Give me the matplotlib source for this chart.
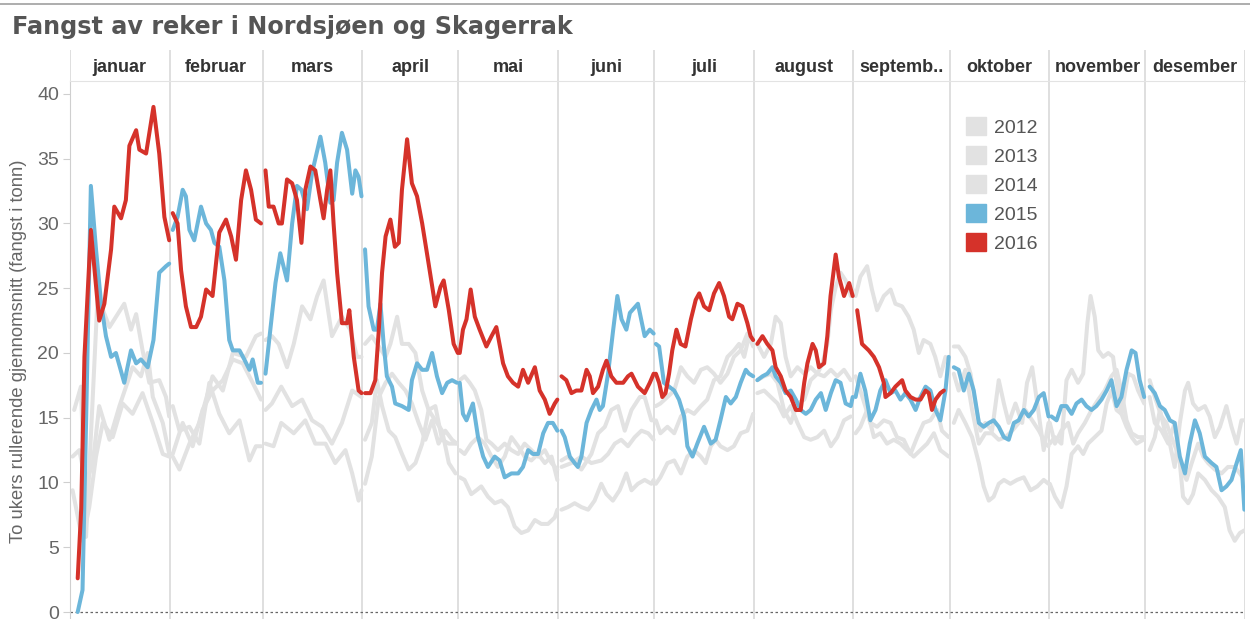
import numpy as np
import matplotlib.pyplot as plt
from matplotlib.patches import Patch
from matplotlib.lines import Line2D

maaneder = ['januar', 'februar', 'mars', 'april', 'mai', 'juni', 'juli',
            'august', 'septemb..', 'oktober', 'november', 'desember']
dager_i_mnd = [31, 29, 31, 30, 31, 30, 31, 31, 30, 31, 30, 31]
aar = ['2012', '2013', '2014', '2015', '2016']

# 2016 (til og med september)
dag_2016 = [2.4, 3.5, 4.5, 6.5, 9.1, 10.7, 12.8, 13.8, 15.9, 17.4, 18.5, 20.6, 21.6, 23.7, 26, 27.8, 29.4, 30.9,
            32, 33.5, 34.6, 36.1, 37.7, 39.3, 40.8, 42.4, 44.4, 46.5, 48.6, 50.2, 51.7, 53.3, 54.8, 56.4, 57.9, 59.5,
            60.9, 61.9, 63.4, 65, 66, 67.6, 69.2, 70.7, 72.1, 73.3, 74.9, 76.4, 78, 79, 80.1, 81.1, 82.1, 83.2, 84.7, 86.3, 87, 88.4, 89.9, 90.8,
            91.9, 93.6, 95.1, 96.2, 97.2, 98.3, 99.8, 101.2, 102.4, 103.4, 105, 106.5, 108.1, 109.7, 111.7, 113.8, 115.4, 116.4, 118, 119.5, 120.8,
            121.4, 122.4, 123.5, 124.8, 126.1, 127.6, 129.7, 131.3, 132.8, 134.9, 136.4, 138, 139.6, 141.1, 142.7, 144.8, 146.3, 147.9, 149.4, 151, 151.8,
            153.1, 154.6, 156.2, 157.7, 159.3, 160.9, 161.9, 162.9, 164.5, 166, 167.1, 168.6, 170.2, 172.3, 173.8, 174.9, 176.9, 179, 180.6, 181.8,
            182.5, 183.5, 184.5, 185.5, 186.6, 187.6, 188.9, 190.2, 191.7, 193.4, 194.9, 196, 197.5, 199.1, 200.6, 202.2, 203.7, 205.3, 206.3, 207.9, 209.4, 211, 212, 212.8,
            214.1, 215.7, 217.2, 218.8, 219.8, 221.4, 222.9, 224.5, 226.1, 227.6, 228.7, 229.7, 231.3, 232.3, 233.3, 234.9, 235.9, 236.9, 238.5, 239.5, 241.1, 242.7, 243.8,
            245.2, 246.7, 248.8, 250.4, 252, 253.5, 254, 255.6, 257.1, 259.2, 260.2, 261.8, 263.4, 264.9, 266.5, 267.5, 268.5, 269.6, 271.1, 272.2]
fangst_2016 = [2.6, 8, 19.7, 29.5, 22.5, 23.8, 28, 31.3, 30.4, 31.8, 36, 37.2, 35.7, 35.4, 39, 35.4, 30.5, 28.7,
               30.8, 30, 26.4, 23.6, 22, 22, 22.8, 24.9, 24.4, 29.3, 30.3, 29, 27.2, 31.8, 34.1, 32.6, 30.3, 30,
               34.1, 31.3, 31.3, 30, 30, 33.4, 33.1, 31.8, 28.5, 32.6, 34.4, 34.1, 31.8, 30.4, 32.6, 34.1, 30, 26.2, 22.3, 22.3, 23.3, 19.7, 17.1, 16.9,
               16.9, 16.9, 17.9, 21.8, 26.2, 29, 30.3, 28.2, 28.5, 32.6, 36.5, 33.1, 32.1, 30, 26.9, 23.6, 25.1, 25.6, 23.3, 20.7, 20,
               20, 21.8, 22.6, 24.9, 22.8, 21.8, 20.5, 21.3, 22, 19.2, 18.2, 17.7, 17.4, 18.7, 17.7, 18.9, 17.1, 16.4, 15.3, 16.1, 16.4,
               18.2, 17.9, 16.9, 17.1, 17.1, 18.7, 18.2, 16.9, 17.4, 18.7, 19.4, 18.2, 17.7, 17.7, 18.2, 18.4, 17.4, 16.9, 17.7, 18.4,
               18.4, 17.7, 16.6, 16.9, 18.4, 20.2, 21.8, 20.7, 20.5, 22.6, 24.1, 24.6, 23.6, 23.3, 24.6, 25.4, 24.4, 22.8, 22.6, 23.8, 23.6, 22.3, 21.3, 21,
               20.7, 21.3, 20.7, 20.2, 18.9, 18.2, 17.1, 16.6, 15.6, 15.6, 17.7, 19.2, 20.7, 20.2, 18.9, 19.2, 21.3, 24.4, 27.6, 25.9, 24.4, 25.4, 24.4,
               23.3, 20.7, 20.2, 19.7, 18.9, 17.7, 16.6, 16.9, 17.4, 17.9, 17.1, 16.6, 16.4, 16.4, 17.1, 16.9, 15.6, 16.4, 16.9, 17.1]

dag_2015 = [2.4, 3.9, 5, 6.5, 8.1, 9.7, 11.2, 12.8, 14.3, 16.9, 19, 20.6, 22.1, 24.2, 26, 27.8, 29.9, 30.9,
            32, 33.5, 35.1, 36.1, 37.2, 38.7, 40.8, 42.4, 43.9, 45, 46.5, 48.1, 49.6, 50.7, 52.8, 54.3, 55.9, 56.9, 58.5, 59.5,
            60.9, 62.4, 64, 65.5, 67.6, 69.2, 70.7, 72.1, 73.8, 75.4, 78, 79.5, 81.1, 82.1, 83.2, 84.7, 86.3, 87.9, 88.9, 89.9, 90.8,
            91.9, 93, 94.6, 95.6, 96.7, 97.7, 98.7, 100.3, 101.3, 103.4, 105.5, 106.5, 108.1, 109.7, 111.2, 112.8, 114.3, 115.9, 117.5, 119, 120.5,
            121.4, 122.4, 123.5, 125.5, 127.1, 128.7, 130.2, 132.3, 133.8, 135.4, 137.5, 139.6, 141.1, 142.7, 144.2, 145.8, 147.4, 148.9, 150.4, 151.8,
            153.1, 154.1, 155.7, 157.2, 158.2, 159.3, 160.9, 162.4, 164, 165, 166, 167.6, 169.2, 170.5, 171.8, 173.3, 174.4, 176.9, 179, 180.6, 181.8,
            182.5, 183.5, 185, 186.6, 188.2, 189.7, 191.3, 192.3, 193.9, 195.4, 197.5, 199.6, 201.1, 202.6, 204.3, 205.8, 207.4, 208.9, 210.5, 211.5, 212.8,
            214.1, 215.7, 217.2, 218.8, 219.8, 221.4, 222.9, 224.5, 226.1, 227.6, 229.2, 230.7, 232.3, 233.9, 235.4, 237, 238.5, 240, 241.6, 243.2, 243.8,
            244.7, 246.2, 247.7, 249.3, 250.9, 252.4, 254, 255.6, 257.1, 258.7, 260.2, 261.8, 263.4, 264.9, 266.5, 268, 269.6, 271.1, 272.7, 273.7,
            275.3, 276.8, 278.4, 280, 281.5, 283.1, 284.6, 286.2, 287.7, 289.3, 290.9, 292.4, 294, 295.5, 297.1, 298.6, 300.2, 301.8, 303.3, 304.8,
            305.7, 307.3, 308.8, 310.4, 312, 313.5, 315.1, 316.6, 318.2, 319.7, 321.3, 322.9, 324.4, 326, 327.5, 329.1, 330.7, 331.9, 333.2, 334.6,
            336.3, 337.9, 339.5, 341, 342.6, 344.1, 345.7, 347.3, 348.8, 350.4, 351.9, 353.5, 355.6, 357.1, 358.7, 360.2, 361.8, 363.4, 364.7, 365.8]
fangst_2015 = [0, 1.7, 14.6, 32.9, 28, 23.8, 21.3, 19.7, 20, 17.7, 20.2, 19.2, 19.5, 18.9, 21, 26.2, 26.7, 26.9,
               29.5, 30.5, 32.6, 32.1, 29.5, 28.7, 31.3, 30, 29.5, 28.5, 28.2, 25.6, 21, 20.2, 20.2, 19.5, 18.7, 19.5, 17.7, 17.7,
               18.4, 21.8, 25.4, 27.7, 25.6, 30, 32.9, 32.6, 31.1, 33.9, 36.7, 34.7, 31.6, 31.8, 34.7, 37, 35.7, 32.3, 34.1, 33.6, 32.1,
               28, 23.6, 21.8, 21.8, 23.8, 20.7, 18.2, 17.4, 16.1, 15.9, 15.6, 17.9, 19.2, 18.7, 18.7, 20, 18.2, 16.9, 17.7, 17.9, 17.7,
               17.7, 15.3, 14.8, 16.1, 13.5, 12, 11.2, 12, 11.7, 10.4, 10.7, 10.7, 11.2, 12.5, 12.2, 12.2, 13.8, 14.6, 14.6, 14,
               14, 13.5, 12, 11.5, 11.2, 12, 14.6, 15.6, 16.4, 15.6, 15.9, 18.4, 21.8, 24.4, 22.6, 21.8, 23.1, 23.8, 21.3, 21.8, 21.5,
               20.7, 20.5, 17.7, 17.4, 17.1, 16.4, 15.1, 12.8, 12, 13, 14.3, 13, 13.3, 14.8, 16.6, 16.1, 16.6, 17.7, 18.7, 18.4, 18.2,
               17.9, 18.2, 18.4, 18.9, 18.2, 17.7, 16.9, 17.1, 16.4, 15.6, 15.3, 15.6, 16.4, 16.9, 15.6, 16.9, 17.9, 17.7, 16.1, 15.9, 16.6,
               16.6, 18.4, 17.1, 14.8, 15.6, 17.1, 17.9, 16.9, 17.1, 16.4, 16.9, 16.4, 15.6, 16.6, 17.4, 17.1, 15.6, 14.8, 17.1, 19.7,
               18.9, 18.7, 17.1, 18.4, 17.1, 14.6, 14.3, 14.6, 14.8, 14.3, 13.5, 13.3, 14.6, 14.8, 15.6, 15.1, 15.6, 16.6, 16.9, 15.1,
               15.1, 14.8, 15.9, 15.9, 15.3, 16.1, 16.4, 15.9, 15.6, 15.9, 16.4, 17.1, 17.9, 15.9, 16.6, 18.7, 20.2, 20, 17.9, 16.6,
               17.4, 16.9, 15.9, 15.6, 14.8, 14.6, 12, 10.7, 13, 14.8, 13.8, 12, 11.5, 11.2, 9.4, 9.7, 10.2, 11.5, 12.5, 7.9]

dag_2013 = [1.3, 3.4, 5, 8.6, 12.3, 16.9, 19, 20.6, 22.6, 24.7, 27.8, 29.9, 30.9,
            32, 34.1, 37.2, 40.3, 44.4, 47.6, 50.7, 54.8, 57.9, 59.5,
            60.9, 62.9, 65, 67.6, 69.7, 72.3, 74.9, 77, 79, 81.6, 84.7, 87.3, 89.4, 90.8,
            91.9, 94, 96.2, 98.3, 99.8, 101.9, 103.4, 105.5, 107.6, 109.7, 111.7, 113.8, 115.9, 118, 120.1,
            121.4, 122.9, 124.5, 126.1, 128.1, 129.7, 131.3, 133.3, 135.4, 137.5, 139.6, 141.6, 143.7, 145.8, 147.9, 150, 151.8,
            153.1, 155.1, 157.2, 159.3, 162.4, 164.5, 166.6, 168.6, 170.7, 172.8, 174.9, 177.5, 179, 181.1, 181.8,
            182.5, 183.9, 186.1, 188.2, 190.3, 192.3, 194.4, 196.5, 198.5, 200.6, 202.6, 204.8, 206.8, 208.9, 211, 212.8,
            214.1, 216.2, 218.3, 219.8, 221.4, 222.9, 224.5, 226.6, 228.7, 230.7, 232.8, 234.4, 235.9, 237, 238.5, 240, 241.6, 243.2, 243.8,
            244.7, 246.2, 248.3, 249.8, 251.4, 253.5, 255.6, 257.1, 259.2, 261.2, 262.8, 264.4, 265.9, 268, 269.5, 271.1, 272.7, 273.7,
            275.3, 276.8, 278.9, 280.5, 282, 283.6, 285.1, 287.2, 289.3, 290.9, 292.4, 294.5, 296.6, 298.1, 299.7, 301.3, 303.3, 304.8,
            305.2, 306.8, 308.8, 310.4, 312, 314, 315.6, 316.9, 317.9, 319.2, 320.3, 321.8, 323.4, 324.9, 326, 327.5, 329.1, 330.7, 332.2, 334.3,
            336.3, 337.9, 339.5, 341, 342.6, 344.1, 345.7, 347.3, 348.3, 349.8, 351.4, 353.5, 355, 356.6, 358.2, 360.2, 361.8, 363.4, 364.9, 365.8]
fangst_2013 = [15.6, 17.4, 5.8, 24.4, 22, 23.8, 21.8, 23, 20.2, 17.7, 17.9, 16.6, 15.1,
               12, 11, 13, 14.6, 18.2, 17.1, 20, 19.7, 21.3, 21.5,
               21, 21.3, 20.7, 18.9, 20.7, 23.6, 22.6, 24.4, 25.6, 21.3, 22.8, 21.8, 19.7, 19.7,
               20.7, 21.3, 20.5, 19.7, 20.7, 22.8, 20.7, 20.7, 20, 17.1, 15.6, 15.9, 13.3, 13, 13,
               17.9, 18.2, 17.7, 17.1, 15.6, 13.3, 13, 12.5, 13, 12.5, 12.2, 13, 12.5, 12, 12.5, 11.5, 11,
               11.7, 12, 11.5, 11, 12.2, 13.8, 14.3, 15.6, 15.9, 14, 15.6, 16.6, 16.6, 14.8, 14.8,
               15.9, 16.1, 16.6, 17.1, 18.9, 18.2, 17.7, 18.7, 18.9, 18.4, 17.7, 18.4, 19.7, 20.2, 21.5, 21,
               20.7, 19.7, 20.7, 22.8, 22.3, 19.7, 18.2, 18.9, 18.4, 18.9, 18.4, 19.2, 20.7, 23.3, 25.1, 26.2, 25.6, 24.4, 24.9,
               24.4, 25.9, 26.7, 24.9, 23.3, 24.4, 24.9, 23.8, 23.6, 22.8, 21.8, 20, 21, 20.7, 19.7, 18.2, 19.7, 19.5,
               20.5, 20.5, 19.7, 18.4, 16.1, 14, 14.6, 14, 17.9, 16.1, 14.6, 16.1, 14.6, 17.7, 18.9, 16.1, 12.5, 14.6,
               13, 13.5, 13, 17.9, 18.7, 17.7, 18.4, 22.3, 24.4, 22.8, 20.2, 19.7, 20, 19.7, 17.7, 15.3, 14.3, 13.5, 13, 13.3,
               12.5, 13.5, 15.6, 14, 13, 11.2, 14.6, 17.1, 17.7, 16.1, 15.6, 15.9, 15.1, 13.5, 14.3, 15.9, 14.3, 13, 14.8, 14.8]

dag_2014 = [0.8, 2.9, 5, 7.1, 9.1, 12.3, 15.4, 19.5, 22.1, 24.2, 25.8, 28.9, 30.9,
            32, 34.1, 37.2, 40.3, 43.4, 46.5, 49.6, 52.8, 55.9, 57.9, 59.5,
            60.9, 62.9, 65.8, 69.2, 72.3, 75.4, 78.5, 81.6, 84.7, 87.9, 90.8,
            91.9, 94, 95.6, 97.2, 99.3, 101.3, 103.4, 105.5, 107.6, 109.7, 111.7, 113.8, 115.9, 118, 120.1,
            121.4, 122.9, 125, 127.1, 129.2, 131.3, 133.3, 135.4, 137.5, 139.6, 141.6, 143.7, 145.8, 147.9, 150, 151.8,
            153.1, 156.2, 159.3, 162.4, 165.5, 167.6, 169.7, 171.7, 173.8, 175.9, 178, 180.1, 181.8,
            182.5, 183.9, 186.1, 188.2, 190.3, 192.3, 194.4, 196.5, 198.5, 200.6, 202.6, 204.8, 206.8, 208.4, 210, 211.5, 212.8,
            214.1, 216.2, 218.3, 220.4, 222.4, 224.5, 226.6, 228.7, 230.7, 232.8, 234.9, 237, 239, 241.1, 243.2,
            244.7, 246.2, 247.7, 249.3, 251.4, 253.5, 255.6, 257.6, 259.7, 261.8, 263.9, 265.9, 268, 270.1, 271.6, 273.7,
            275.3, 276.8, 278.9, 281, 283.1, 285.1, 287.2, 289.3, 291.4, 293.5, 295.5, 297.6, 299.7, 301.8, 303.9, 304.8,
            305.2, 306.8, 308.8, 310.4, 312, 314, 315.6, 317.1, 319.2, 321.3, 322.9, 324.4, 326, 327.5, 329.6, 331.2, 332.7, 334.6,
            336.3, 337.9, 340, 341.5, 343.1, 344.7, 346.2, 347.8, 349.4, 351.4, 353, 354.5, 356.6, 358.7, 360.7, 362.8, 364.4, 365.8]
fangst_2014 = [12, 12.5, 9.9, 11.5, 15.9, 13.3, 15.9, 18.9, 18.2, 20, 16.6, 14.6, 12.2,
               15.9, 14, 14.3, 13, 17.7, 15.3, 13.8, 14.8, 11.7, 12.8, 12.8,
               15.6, 16.1, 17.4, 15.9, 16.4, 14.8, 14.3, 13, 14.6, 17.1, 16.6,
               13.3, 14.6, 17.9, 15.9, 14, 13.5, 12.2, 11, 11.5, 13, 15.6, 14.8, 14, 11.5, 10.7,
               12.5, 12.2, 13, 13.5, 13, 12, 11.2, 12, 13.5, 12.8, 12, 11.7, 12.2, 11.5, 12, 10.2,
               11.2, 11.5, 12, 11.5, 11.7, 12.2, 13, 13.3, 12.8, 13.5, 14, 13.8, 13.3,
               14.8, 13.8, 14.3, 13.8, 15.1, 15.6, 15.3, 15.9, 16.4, 17.9, 18.2, 19.7, 20.2, 20.7, 19.7, 21.3, 20.5,
               17.9, 18.2, 18.4, 17.7, 15.6, 14.6, 16.1, 16.4, 17.9, 18.4, 18.2, 18.7, 18.2, 18.7, 17.9,
               18.2, 17.1, 15.9, 14.6, 14.3, 14.8, 14.6, 13.5, 13.3, 12.2, 13.5, 14.6, 14.8, 15.6, 14, 13.5,
               18.4, 17.1, 18.7, 15.6, 13, 13.8, 13.8, 13.3, 13.5, 14, 14.6, 15.6, 14.8, 14, 13, 12.8,
               9.9, 8.9, 8.1, 9.7, 12.2, 12.8, 12.2, 13, 13.5, 14, 16.1, 17.1, 15.6, 15.3, 18.4, 18.2, 17.1, 16.1,
               17.9, 16.6, 15.1, 14.6, 13.5, 12.5, 11, 10.2, 11.5, 13, 12, 11.5, 11, 10.7, 11.2, 11.2, 10.7, 10.2]

dag_2012 = [0.8, 3.9, 6, 8.1, 10.2, 13.3, 16.4, 19.5, 22.6, 25.8, 28.9, 30.9,
            32, 35.1, 38.2, 41.3, 44.4, 47.6, 50.7, 53.8, 56.9, 59.5,
            60.9, 63.4, 65.8, 69.7, 73.3, 76.4, 79.6, 82.6, 85.8, 87.9, 89.9, 90.8,
            91.9, 94, 96.2, 98.3, 100.3, 102.4, 104.5, 106.5, 108.6, 110.7, 112.8, 114.8, 116.9, 119, 120.5,
            121.4, 122.9, 125, 126.6, 128.1, 130.2, 132.3, 134.4, 136.4, 138.5, 140.6, 142.7, 144.8, 146.8, 148.9, 151, 151.8,
            153.1, 155.1, 157.2, 159.3, 161.4, 163.4, 165.5, 167.1, 169.1, 171.2, 173.3, 174.9, 176.9, 179, 181.1, 181.8,
            182.5, 183.9, 186.1, 188.2, 190.3, 192.3, 194.4, 196.5, 198, 199.6, 201.1, 202.6, 204.8, 206.8, 208.9, 211, 212.8,
            214.1, 216.2, 218.3, 220.4, 222.4, 224.5, 226.6, 228.7, 230.7, 232.8, 234.9, 237, 239, 241.1, 243.2,
            244.7, 246.2, 248.3, 250.4, 252.4, 254.5, 256.6, 258.7, 260.7, 262.8, 264.9, 267, 269.1, 271.1, 273.7,
            275.3, 276.8, 278.9, 281, 283.1, 284.6, 286.2, 287.7, 289.3, 290.9, 292.9, 295, 297.1, 299.2, 301.3, 303.3, 304.8,
            305.2, 306.8, 308.8, 310.9, 312.5, 314, 316.1, 318.2, 320.3, 322.3, 324.4, 326, 327.5, 329.1, 330.7, 332.7, 334.6,
            336.3, 337.9, 340, 342.1, 344.1, 345.7, 346.7, 348.3, 349.8, 351.4, 353.5, 355.6, 357.6, 359.7, 361.2, 362.8, 364.4, 365.8]
fangst_2012 = [9.4, 5.5, 8.1, 12, 14.6, 13.5, 16.1, 15.3, 16.9, 14.6, 12.2, 12,
               12.2, 14.6, 12.8, 15.6, 17.1, 17.9, 19.5, 19.2, 17.7, 16.4,
               13, 12.8, 14.6, 13.8, 14.8, 13, 13, 11.5, 12.5, 10.7, 8.6, 9.4,
               9.9, 12, 16.6, 17.7, 18.4, 17.7, 17.1, 16.1, 14.6, 13.3, 14.8, 13, 14, 13.3, 13,
               10.4, 10.2, 9.1, 9.4, 9.7, 8.9, 8.4, 8.6, 8.1, 6.6, 6.1, 6.3, 7.1, 6.8, 6.8, 7.3, 7.9,
               7.9, 8.1, 8.4, 8.1, 7.9, 8.6, 9.9, 9.1, 8.6, 9.4, 10.7, 9.4, 9.9, 10.2, 9.9, 10.2,
               9.9, 10.4, 11.5, 11.7, 10.7, 12, 12.5, 12, 11.5, 12.8, 13.3, 12.8, 12.5, 12.8, 13.8, 14, 15.3,
               16.9, 17.1, 16.6, 16.1, 15.1, 15.9, 14.6, 13.5, 13.3, 13.5, 14, 12.8, 13.5, 14.8, 15.1,
               13.8, 14.3, 15.6, 13.5, 13.8, 13, 13.3, 13, 12.5, 12, 12.5, 13, 13.8, 12.5, 12,
               14.6, 15.6, 14.6, 13.5, 11.5, 9.7, 8.6, 8.9, 9.9, 10.2, 9.9, 10.2, 10.4, 9.4, 9.7, 10.2, 9.9,
               14.6, 13, 14, 14.6, 13, 13.8, 14.6, 15.6, 16.4, 17.1, 18.2, 18.7, 17.1, 14.8, 13.8, 13.5, 13.5,
               16.6, 14.6, 14, 13, 14.6, 11.5, 8.9, 8.4, 9.1, 10.7, 10.2, 9.4, 8.9, 8.1, 6.3, 5.5, 6.1, 6.3]

GRAA = '#e2e2e2'
BLAA = '#6cb6da'
ROED = '#d5322a'
farger = [GRAA, GRAA, GRAA, BLAA, ROED]

W, H = 1250, 619
fig = plt.figure(figsize=(W / 100, H / 100), dpi=100)
venstre, hoyre = 70, 1245
ax = fig.add_axes([venstre / W, 0, (hoyre - venstre) / W, 1 - 81 / H])
grenser = np.cumsum([0] + dager_i_mnd)


def tegn(dager, verdier, farge, z):
    d = np.array(dager)
    v = np.array(verdier)
    for i in range(12):
        m = (d >= grenser[i]) & (d < grenser[i + 1])
        ax.plot(d[m], v[m], color=farge, lw=2.9, zorder=z,
                solid_joinstyle='round', solid_capstyle='round')


tegn(dag_2012, fangst_2012, GRAA, 2)
tegn(dag_2013, fangst_2013, GRAA, 2)
tegn(dag_2014, fangst_2014, GRAA, 2)
tegn(dag_2015, fangst_2015, BLAA, 3)
tegn(dag_2016, fangst_2016, ROED, 4)

ax.set_xlim(0, 366)
ax.set_ylim(-0.54, 41.0)
for g in grenser[1:]:
    ax.axvline(g, color='#d9d9d9', lw=1.2, zorder=1)
ax.axhline(0, color='#666666', lw=0.9, ls=(0, (2, 2)), zorder=1)
for s in ['right', 'bottom']:
    ax.spines[s].set_visible(False)
ax.spines['left'].set_color('#cfcfcf')
ax.spines['top'].set_color('#e3e3e3')
ax.set_xticks([])
ax.set_yticks(range(0, 41, 5))
ax.tick_params(axis='y', length=5, color='#cfcfcf', labelsize=14,
               labelcolor='#666666', pad=3)
for t in ax.get_yticklabels():
    t.set_fontfamily('Liberation Sans')

# maanedsoverskrift
hx = fig.add_axes([venstre / W, 1 - 81 / H, (hoyre - venstre) / W, 31 / H])
hx.set_xlim(0, 366)
hx.set_ylim(0, 1)
hx.axis('off')
for g in grenser:
    hx.axvline(g, color='#d9d9d9', lw=1.2)
for i, navn in enumerate(maaneder):
    hx.text((grenser[i] + grenser[i + 1]) / 2, 0.45, navn, ha='center', va='center',
            fontsize=13, fontweight='bold', color='#333333', family='Liberation Sans')

fig.text(12 / W, 1 - 27 / H, 'Fangst av reker i Nordsjøen og Skagerrak', ha='left', va='center',
         fontsize=17.2, fontweight='bold', color='#555555')
fig.text(19 / W, 1 - 351 / H, 'To ukers rullerende gjennomsnitt (fangst i tonn)', rotation=90,
         ha='center', va='center', fontsize=13.2, color='#666666', family='Liberation Sans')
fig.add_artist(Line2D([0, 1], [1 - 4 / H, 1 - 4 / H], transform=fig.transFigure,
                      color='#a0a0a0', lw=1.2))

handles = [Patch(facecolor=c, edgecolor=c) for c in farger]
fig.legend(handles, aar, loc='upper left', bbox_to_anchor=(966 / W, 1 - 117 / H),
           bbox_transform=fig.transFigure, frameon=False, borderpad=0, borderaxespad=0,
           handlelength=1.05, handleheight=1.05, handletextpad=0.4, labelspacing=0.48,
           prop={'family': 'Liberation Sans', 'size': 14}, labelcolor='#555555')

fig.savefig('out.png', dpi=100)
